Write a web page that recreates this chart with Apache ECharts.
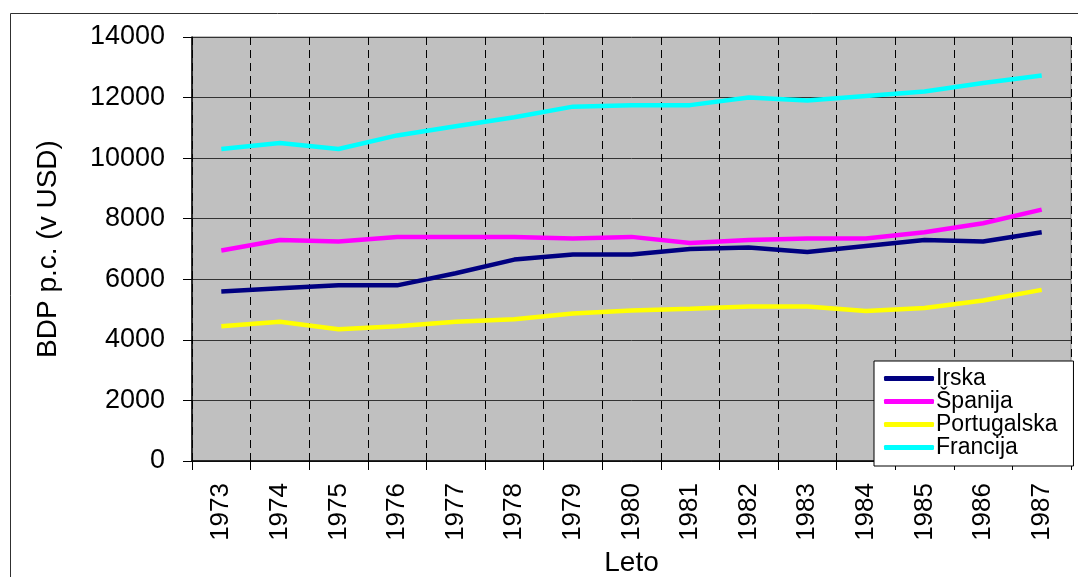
<!DOCTYPE html>
<html>
<head>
<meta charset="utf-8">
<script src="https://cdn.jsdelivr.net/npm/echarts@6/dist/echarts.min.js"></script>
<style>
html,body{margin:0;padding:0;background:#fff;}
#c{width:1078px;height:577px;}
</style>
</head>
<body>
<div id="c"></div>
<script>
const years = ['1973','1974','1975','1976','1977','1978','1979','1980','1981','1982','1983','1984','1985','1986','1987'];
const irska = [5600,5700,5800,5800,6200,6650,6820,6820,7000,7050,6900,7100,7300,7250,7550];
const spanija = [6950,7300,7250,7400,7400,7400,7350,7400,7200,7300,7350,7350,7550,7850,8300];
const portugalska = [4450,4600,4350,4450,4600,4680,4870,4970,5030,5100,5100,4950,5050,5300,5650];
const francija = [10300,10500,10300,10750,11050,11350,11700,11750,11750,12000,11900,12050,12200,12480,12730];
const yTicks = [0,2000,4000,6000,8000,10000,12000,14000];

const FONT = 'Liberation Sans';
const chart = echarts.init(document.getElementById('c'));
function ser(name, data, color){
  return {name:name, type:'line', data:data, symbol:'none', smooth:false,
    lineStyle:{color:color, width:4.5}, itemStyle:{color:color}};
}
chart.setOption({
  animation:false,
  backgroundColor:'#ffffff',
  textStyle:{fontFamily:FONT},
  graphic:[{type:'rect', shape:{x:10.5,y:13.5,width:1200,height:700}, style:{fill:'none', stroke:'#303030', lineWidth:1}, silent:true, z:-10}],
  grid:{left:192, right:7, top:37, bottom:116, containLabel:false, outerBoundsMode:'none',
    show:true, backgroundColor:'#C0C0C0', borderColor:'#808080', borderWidth:1},
  legend:{
    orient:'vertical', left:874, top:361, width:201,
    backgroundColor:'#ffffff', borderColor:'#000000', borderWidth:1, borderRadius:0,
    padding:[6,16,7,10], itemGap:0, itemWidth:50, itemHeight:5, icon:'roundRect',
    textStyle:{fontFamily:FONT, fontSize:23, color:'#000', lineHeight:23, padding:[0,0,0,-3]},
    data:['Irska','Španija','Portugalska','Francija']
  },
  xAxis:{
    type:'category', data:years, boundaryGap:true,
    name:'Leto', nameLocation:'middle', nameGap:88,
    nameTextStyle:{fontFamily:FONT, fontSize:28, color:'#000', verticalAlign:'top'},
    axisLine:{show:true, lineStyle:{color:'#000', width:1.5}},
    axisTick:{show:true, alignWithLabel:false, interval:0, length:9, lineStyle:{color:'#000'}},
    axisLabel:{rotate:90, interval:0, margin:22, fontFamily:FONT, fontSize:26, color:'#000'},
    splitLine:{show:true, interval:0, lineStyle:{color:'#000', type:[8,5], width:1}}
  },
  yAxis:{
    type:'value', min:0, max:14000, interval:2000,
    name:'BDP p.c. (v USD)', nameLocation:'middle', nameGap:130,
    nameTextStyle:{fontFamily:FONT, fontSize:28, color:'#000'},
    axisLine:{show:true, lineStyle:{color:'#000', width:1.5}},
    axisTick:{show:true, inside:false, length:9, lineStyle:{color:'#000'}},
    axisLabel:{margin:27, fontFamily:FONT, fontSize:27, color:'#000',
      formatter:function(v){return yTicks.indexOf(v)>=0 ? String(v) : '';}},
    splitLine:{show:true, lineStyle:{color:'#333333', width:1}}
  },
  series:[
    ser('Irska', irska, '#000080'),
    ser('Španija', spanija, '#FF00FF'),
    ser('Portugalska', portugalska, '#FFFF00'),
    ser('Francija', francija, '#00FFFF')
  ]
});
</script>
</body>
</html>
